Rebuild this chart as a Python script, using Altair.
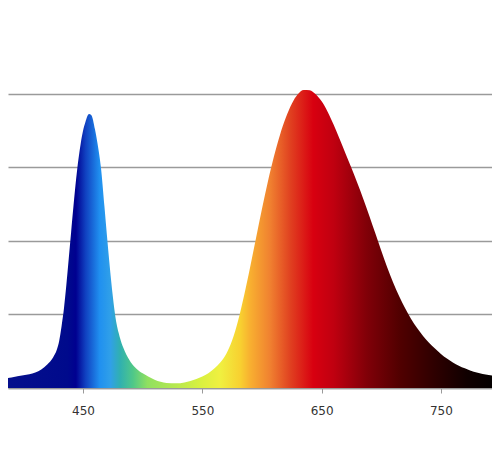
import altair as alt
import pandas as pd

# Spectrum readings (wavelength nm, relative intensity)
wavelength = [380, 390, 400, 410, 415, 420, 425, 428, 430, 432, 434, 436, 438, 440, 442, 445,
              448, 450, 452, 455, 457, 460, 462, 465, 468, 470, 472, 475, 477, 480, 485, 490,
              495, 500, 505, 510, 515, 520, 528, 535, 540, 545, 550, 555, 560, 565, 570, 575,
              580, 585, 590, 595, 600, 605, 610, 615, 620, 625, 630, 635, 640, 645, 650, 655,
              660, 665, 670, 675, 680, 685, 690, 695, 700, 705, 710, 715, 720, 725, 730, 735,
              740, 745, 750, 755, 760, 765, 770, 775, 780, 785, 790, 795, 800]
intensity = [3.0, 3.6, 4.3, 5.3, 6.3, 8.0, 10.5, 13.0, 16.0, 21.0, 27.0, 35.0, 44.0, 53.0, 62.0, 74.0,
             83.0, 87.5, 90.5, 93.2, 92.8, 88.0, 83.5, 75.0, 61.5, 52.0, 43.0, 31.0, 24.5, 18.5, 12.5, 8.8,
             6.5, 5.0, 3.8, 2.8, 2.1, 1.7, 1.6, 1.9, 2.4, 3.1, 3.9, 5.0, 6.6, 8.7, 11.6, 16.2,
             23.0, 31.5, 41.0, 51.0, 61.0, 70.3, 78.7, 86.0, 92.0, 96.7, 99.9, 101.4, 101.3, 99.9, 97.5, 94.0,
             89.6, 84.8, 79.8, 74.8, 69.6, 64.2, 58.5, 52.6, 46.7, 41.0, 35.8, 31.2, 27.1, 23.5, 20.4, 17.7,
             15.4, 13.4, 11.6, 10.0, 8.7, 7.6, 6.7, 5.9, 5.3, 4.8, 4.4, 4.1, 3.8]

x_ticks = [450, 550, 650, 750]
y_grid = [0, 25, 50, 75, 100]

# colour stops of the spectrum fill (wavelength -> colour)
stop_wl = [380, 437, 444, 452, 464, 473, 481, 492, 504, 548, 565, 582, 590, 607, 624, 643, 660, 688, 716, 743, 772, 800]
stop_col = ["#06108c", "#000a8c", "#000090", "#1040c0", "#2090f0", "#30a0e8", "#30b0b0", "#50c888",
            "#90e060", "#d8f040", "#f0f040", "#f8d030", "#f8b030", "#f08030", "#e04020", "#d80010",
            "#c00010", "#800008", "#500000", "#300000", "#100000", "#000000"]

df = pd.DataFrame({"wl": wavelength, "val": intensity})
lo, hi = min(wavelength), max(wavelength)
stops = [alt.GradientStop(offset=(w - lo) / (hi - lo), color=c) for w, c in zip(stop_wl, stop_col)]

chart = alt.Chart(df).mark_area(
    clip=True,
    interpolate="monotone",
    color=alt.Gradient(gradient="linear", stops=stops, x1=0, x2=1, y1=0, y2=0),
).encode(
    x=alt.X("wl:Q", scale=alt.Scale(domain=[387.1, 792.8], nice=False, zero=False),
            axis=alt.Axis(values=x_ticks, title=None, grid=False, tickSize=5, tickColor="#9a9a9a",
                          domainColor="#9a9a9a", domainWidth=1.5, labelFontSize=12,
                          labelColor="#333333", labelFont="DejaVu Sans", labelPadding=12)),
    y=alt.Y("val:Q", scale=alt.Scale(domain=[0, 129.25], nice=False),
            axis=alt.Axis(values=y_grid, title=None, labels=False, ticks=False, domain=False,
                          grid=True, gridColor="#9a9a9a", gridWidth=1.5)),
).properties(
    width=484, height=380, autosize="none",
    padding={"left": 0, "top": 0, "right": 0, "bottom": 50},
).configure_view(strokeWidth=0)

chart.save("out.html", embed_options={"renderer": "svg", "actions": False})
